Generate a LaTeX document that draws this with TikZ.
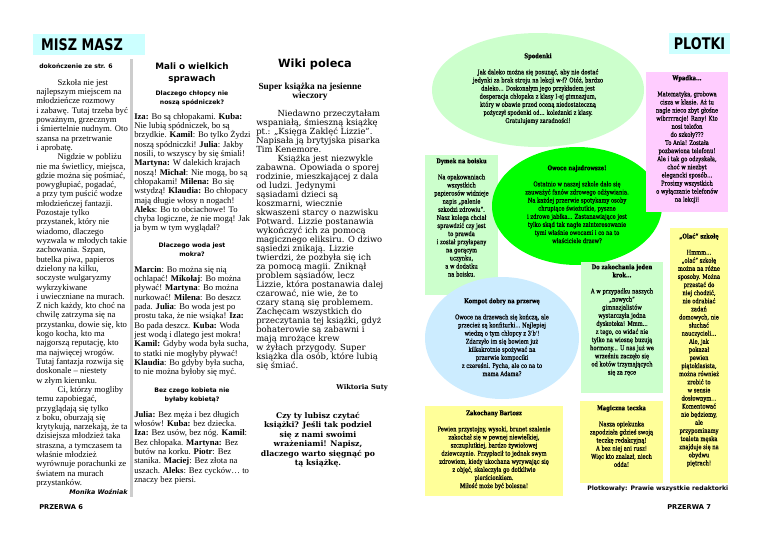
\documentclass[tikz,border=0pt]{standalone}
\usepackage{fontspec}
\setmainfont{Liberation Serif}
\newfontfamily\headsans{DejaVu Sans}
\newfontfamily\wikiserif{DejaVu Serif}
\newfontfamily\plotserif{DejaVu Serif}[FakeStretch=0.8,FakeBold=0.4]
\usepackage{tikz}
\usetikzlibrary{positioning}
\definecolor{bannercyan}{RGB}{204,255,255}
\definecolor{mintgreen}{RGB}{204,255,204}
\definecolor{limegreen}{RGB}{0,255,0}
\definecolor{skyblue}{RGB}{204,236,255}
\definecolor{pinkbox}{RGB}{255,204,255}
\definecolor{paleyellow}{RGB}{255,255,153}
\definecolor{rulegrey}{RGB}{205,205,205}
\newcommand{\BodyFont}{\fontsize{6.5}{6.98}\selectfont}
\newcommand{\PlotFont}{\plotserif\fontsize{4.9}{6.08}\selectfont}
\newcommand{\TallCaps}[1]{\scalebox{1}[1.25]{#1}}
\tikzset{
  banner/.style={fill=bannercyan},
  bannertext/.style={inner sep=0pt, font=\headsans\bfseries\fontsize{9.6}{10}\selectfont},
  colbody/.style={anchor=north west, align=left, inner sep=0pt, font=\BodyFont},
  coltitle/.style={anchor=north, align=center, inner sep=0pt, font=\headsans\bfseries\fontsize{6.6}{9}\selectfont},
  colhead/.style={anchor=north, align=center, inner sep=0pt, font=\headsans\bfseries\fontsize{4.6}{6.75}\selectfont},
  wikibody/.style={anchor=north west, align=left, inner sep=0pt, font=\wikiserif\fontsize{6.3}{6.75}\selectfont},
  plottext/.style={anchor=north, align=center, inner sep=0pt, font=\PlotFont},
  smallsans/.style={inner sep=0pt, font=\headsans\bfseries\fontsize{4.6}{5}\selectfont},
  pagemark/.style={anchor=base west, inner sep=0pt, font=\headsans\bfseries\fontsize{5}{6}\selectfont}
}
\begin{document}
\begin{tikzpicture}[x=0.75pt,y=-0.75pt]
  \useasboundingbox (0,0) rectangle (768,543);
  % banners
  \fill[banner] (33,34) rectangle (145,55);
  \node[bannertext] (misz) at (82,44.5) {\TallCaps{MISZ MASZ}};
  \fill[banner] (669,33) rectangle (730,54);
  \node[bannertext] (plotki) at (699.5,43.5) {\TallCaps{PLOTKI}};
  % column rule
  \fill[rulegrey] (129.5,59) rectangle (132.5,497);
  % left column
  \node[smallsans, anchor=base west] (dokon) at (39,68) {dokończenie ze str. 6};
  \node[colbody] (col1) at (36,79) {%
    \hspace*{16pt}Szkoła nie jest\\ najlepszym miejscem na\\ młodzieńcze rozmowy\\
    i zabawę. Tutaj trzeba być\\ poważnym, grzecznym\\ i śmiertelnie nudnym. Oto\\
    szansa na przetrwanie\\ i aprobatę.\\ \hspace*{16pt}Nigdzie w pobliżu\\
    nie ma świetlicy, miejsca,\\ gdzie można się pośmiać,\\ powygłupiać, pogadać,\\
    a przy tym puścić wodze\\ młodzieńczej fantazji.\\ Pozostaje tylko\\
    przystanek, który nie\\ wiadomo, dlaczego\\ wyzwala w młodych takie\\
    zachowania. Szpan,\\ butelka piwa, papieros\\ dzielony na kilku,\\
    soczyste wulgaryzmy\\ wykrzykiwane\\ i uwieczniane na murach.\\
    Z nich każdy, kto choć na\\ chwilę zatrzyma się na\\ przystanku, dowie się, kto\\
    kogo kocha, kto ma\\ najgorszą reputację, kto\\ ma najwięcej wrogów.\\
    Tutaj fantazja rozwija się\\ doskonale – niestety\\ w złym kierunku.\\
    \hspace*{16pt}Ci, którzy mogliby\\ temu zapobiegać,\\ przyglądają się tylko\\
    z boku, oburzają się\\ krytykują, narzekają, że ta\\ dzisiejsza młodzież taka\\
    straszna, a tymczasem ta\\ właśnie młodzież\\ wyrównuje porachunki ze\\
    światem na murach\\ przystanków.};
  \node[smallsans, anchor=base east, font=\headsans\bfseries\itshape\fontsize{4.8}{5}\selectfont] (sig1) at (128,494) {Monika Woźniak};
  \node[pagemark] (przerwa6) at (39,509) {PRZERWA 6};
  % second column
  \node[coltitle] (mali) at (192,63) {Mali o wielkich\\ sprawach};
  \node[colhead] (q1) at (192,91) {Dlaczego chłopcy nie\\ noszą spódniczek?};
  \node[colbody] (a1) at (134,113) {%
    \textbf{Iza:} Bo są chłopakami. \textbf{Kuba:}\\ Nie lubią spódniczek, bo są\\
    brzydkie. \textbf{Kamil}: Bo tylko Żydzi\\ noszą spódniczki! \textbf{Julia}: Jakby\\
    nosili, to wszyscy by się śmiali!\\ \textbf{Martyna:} W dalekich krajach\\
    noszą! \textbf{Michał}: Nie mogą, bo są\\ chłopakami! \textbf{Milena:} Bo się\\
    wstydzą! \textbf{Klaudia:} Bo chłopacy\\ mają długie włosy n nogach!\\
    \textbf{Aleks}: Bo to obciachowe! To\\ chyba logiczne, że nie mogą! Jak\\
    ja bym w tym wyglądał?};
  \node[colhead] (q2) at (192,243) {Dlaczego woda jest\\ mokra?};
  \node[colbody] (a2) at (134,266) {%
    \textbf{Marcin}: Bo można się nią\\ ochlapać! \textbf{Mikołaj}: Bo można\\
    pływać! \textbf{Martyna}: Bo można\\ nurkować! \textbf{Milena}: Bo deszcz\\
    pada. \textbf{Julia}: Bo woda jest po\\ prostu taka, że nie wsiąka! \textbf{Iza:}\\
    Bo pada deszcz. \textbf{Kuba:} Woda\\ jest wodą i dlatego jest mokra!\\
    \textbf{Kamil:} Gdyby woda była sucha,\\ to statki nie mogłyby pływać!\\
    \textbf{Klaudia}: Bo gdyby była sucha,\\ to nie można byłoby się myć.};
  \node[colhead] (q3) at (192,388) {Bez czego kobieta nie\\ byłaby kobietą?};
  \node[colbody] (a3) at (134,411) {%
    \textbf{Julia:} Bez męża i bez długich\\ włosów! \textbf{Kuba:} bez dziecka.\\
    \textbf{Iza:} Bez usów, bez nóg. \textbf{Kamil}:\\ Bez chłopaka. \textbf{Martyna:} Bez\\
    butów na korku. \textbf{Piotr}: Bez\\ stanika. \textbf{Maciej}: Bez złota na\\
    uszach. \textbf{Aleks}: Bez cycków… to\\ znaczy bez piersi.};
  % Wiki column
  \node[inner sep=0pt, font=\headsans\bfseries\fontsize{8.5}{9}\selectfont] (wiki) at (315,64) {Wiki poleca};
  \node[anchor=north, align=center, inner sep=0pt, font=\bfseries\fontsize{7}{6.75}\selectfont] (wikititle) at (310,83) {Super książka na jesienne\\ wieczory};
  \node[wikibody] (wikitext) at (256,110) {%
    \hspace*{16pt}Niedawno przeczytałam\\ wspaniałą, śmieszną książkę\\
    pt.: „Księga Zaklęć Lizzie”.\\ Napisała ją brytyjska pisarka\\ Tim Kenemore.\\
    \hspace*{16pt}Książka jest niezwykle\\ zabawna. Opowiada o sporej\\
    rodzinie, mieszkającej z dala\\ od ludzi. Jedynymi\\ sąsiadami dzieci są\\
    koszmarni, wiecznie\\ skwaszeni starcy o nazwisku\\ Potward. Lizzie postanawia\\
    wykończyć ich za pomocą\\ magicznego eliksiru. O dziwo\\ sąsiedzi znikają. Lizzie\\
    twierdzi, że pozbyła się ich\\ za pomocą magii. Zniknął\\ problem sąsiadów, lecz\\
    Lizzie, która postanawia dalej\\ czarować, nie wie, że to\\ czary staną się problemem.\\
    Zachęcam wszystkich do\\ przeczytania tej książki, gdyż\\ bohaterowie są zabawni i\\
    mają mrożące krew\\ w żyłach przygody. Super\\ książka dla osób, które lubią\\
    się śmiać.};
  \node[anchor=base east, inner sep=0pt, font=\wikiserif\bfseries\fontsize{5}{6}\selectfont] (wikisig) at (388,389) {Wiktoria Suty};
  \node[anchor=north, align=center, inner sep=0pt, font=\wikiserif\bfseries\fontsize{5.8}{7.1}\selectfont] (wikiask) at (318,412) {%
    Czy ty lubisz czytać\\ książki? Jeśli tak podziel\\ się z nami swoimi\\
    wrażeniami! Napisz,\\ dlaczego warto sięgnąć po\\ tą książkę.};
  % gossip shapes (order matters: later ones lie on top)
  \fill[mintgreen] (538,90) ellipse [x radius=106, y radius=57];
  \fill[mintgreen] (425,155) rectangle (498,295);
  \fill[limegreen] (577,206) ellipse [x radius=85, y radius=59];
  \fill[skyblue] (502,338) ellipse [x radius=77, y radius=61];
  \foreach \shade/\xa/\ya/\xb/\yb in {pinkbox/646/72/728/212, paleyellow/670/228/728/483,
      mintgreen/581/262/663/393, paleyellow/580/401/663/483, paleyellow/425/406/563/496}{%
    \fill[\shade] (\xa,\ya) rectangle (\xb,\yb);
  }
  % gossip texts
  \node[plottext] (spodenki) at (538,53) {{\bfseries Spodenki}\\[6pt]
    Jak daleko można się posunąć, aby nie dostać\\ jedynki za brak stroju na lekcji w-f? Otóż, bardzo\\
    daleko... Doskonałym jego przykładem jest\\ desperacja chłopaka z klasy I-ej gimnazjum,\\
    który w obawie przed oceną niedostateczną\\ pożyczył spodenki od... koleżanki z klasy.\\
    Gratulujemy zaradności!};
  \node[plottext] (wpadka) at (687,75) {{\bfseries Wpadka...}\\[6pt]
    Matematyka,  grobowa\\ cisza w klasie.  Aż tu\\ nagle nieco zbyt głośne\\
    wibrrrracje!  Rany! Kto\\ nosi telefon\\ do  szkoły???\\ To Ania! Została\\
    pozbawiona telefonu!\\ Ale i tak go odzyskała,\\ choć w niezbyt\\ elegancki sposób…\\
    Prosimy wszystkich\\ o wyłączanie telefonów\\ na lekcji!};
  \node[plottext] (dymek) at (461.5,158) {{\bfseries Dymek na boisku}\\[6pt]
    Na opakowaniach\\ wszystkich\\ papierosów widnieje\\ napis „palenie\\
    szkodzi zdrowiu”.\\ Nasz kolega chciał\\ sprawdzić czy jest\\ to prawda\\
    i został przyłapany\\ na gorącym\\ uczynku,\\ a w dodatku\\ na boisku.};
  \node[plottext] (owoce) at (577,165) {{\bfseries Owoce najzdrowsze!}\\[6pt]
    Ostatnio w naszej szkole dało się\\ zauważyć fanów zdrowego odżywiania.\\
    Na każdej przerwie spotykamy osoby\\ chrupiące świeżutkie, pyszne\\
    i zdrowe jabłka... Zastanawiające jest\\ tylko skąd tak nagłe zainteresowanie\\
    tymi właśnie owocami i co na to\\ właściciele drzew?};
  \node[plottext] (kompot) at (502,298) {{\bfseries Kompot dobry na przerwę}\\[6pt]
    Owoce na drzewach się kończą, ale\\ przecież są konfiturki… Najlepiej\\
    wiedzą o tym chłopcy z 3'b'!\\ Zdarzyło im się bowiem już\\ kilkakrotnie spożywać na\\
    przerwie kompociki\\ z czereśni. Pycha, ale co na to\\ mama Adama?};
  \node[plottext] (krok) at (622,264) {{\bfseries Do zakochania jeden}\\ {\bfseries krok...}\\[6pt]
    A w przypadku naszych\\ „nowych”\\ gimnazjalistów\\ wystarczyła jedna\\
    dyskoteka! Mmm...\\ z tego, co widać nie\\ tylko na wiosnę buzują\\
    hormony... U nas już we\\ wrześniu zaczęło się\\ od kotów trzymających\\ się za ręce};
  \node[plottext] (olac) at (699,233) {{\bfseries „Olać” szkołę}\\[6pt]
    Hmmm…\\ „olać” szkołę\\ można na różne\\ sposoby. Można\\ przestać do\\
    niej chodzić,\\ nie odrabiać\\ zadań\\ domowych, nie\\ słuchać\\ nauczycieli…\\
    Ale, jak\\ pokazał\\ pewien\\ piątoklasista,\\ można również\\ zrobić to\\
    w sensie\\ dosłownym…\\ Komentować\\ nie będziemy,\\ ale\\ przypominamy\\
    toaleta męska\\ znajduje się na\\ obydwu\\ piętrach!};
  \node[plottext] (teczka) at (621.5,405) {{\bfseries Magiczna teczka}\\[6pt]
    Nasza opiekunka\\ zapodziała gdzieś swoją\\ teczkę redakcyjną!\\
    A bez niej ani rusz!\\ Więc kto znalazł, niech\\ odda!};
  \node[plottext] (zakochany) at (494,410) {{\bfseries Zakochany Bartosz}\\[6pt]
    Pewien przystojny, wysoki, brunet szalenie\\ zakochał się w pewnej niewielkiej,\\
    szczuplutkiej, bardzo żywiołowej\\ dziewczynie. Przypłacił to jednak swym\\
    zdrowiem, kiedy ukochana wyrywając się\\ z objęć, skaleczyła go dotkliwie\\
    pierścionkiem.\\ Miłość może być bolesna!};
  \node[smallsans, anchor=base west] (plotsig) at (587,490) {Plotkowały: Prawie wszystkie redaktorki};
  \node[pagemark] (przerwa7) at (667,509) {PRZERWA 7};
\end{tikzpicture}
\end{document}
